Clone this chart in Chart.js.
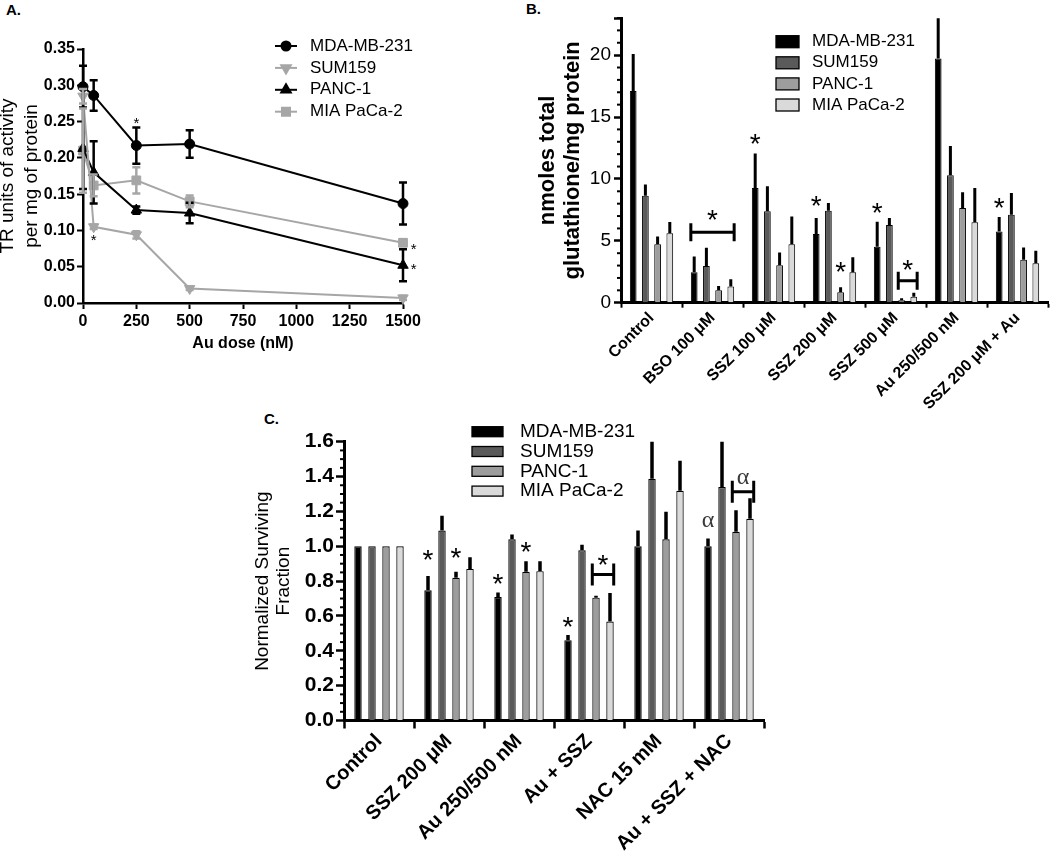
<!DOCTYPE html>
<html>
<head>
<meta charset="utf-8">
<script src="https://cdn.jsdelivr.net/npm/chart.js@4.4.0/dist/chart.umd.min.js"></script>
<style>
  body { margin: 0; background: #fff; width: 1050px; height: 861px; position: relative; overflow: hidden; }
  canvas { position: absolute; }
  .tag { position: absolute; font: bold 15px 'Liberation Sans', Arial, sans-serif; }
</style>
</head>
<body>
<div class="tag" style="left:6px;top:1px">A.</div>
<div class="tag" style="left:526px;top:0px">B.</div>
<div class="tag" style="left:264px;top:410px">C.</div>
<canvas id="chartA" width="470" height="370" style="left:0;top:0"></canvas>
<canvas id="chartB" width="570" height="410" style="left:480px;top:0"></canvas>
<canvas id="chartC" width="560" height="461" style="left:230px;top:400px"></canvas>
<script>
// ---- Panel A data: TR activity vs Au dose ----
const doseA = [0, 50, 250, 500, 1500];
const mdaA = [0.298, 0.286, 0.217, 0.219, 0.137];
const mdaErrA = [0.029, 0.021, 0.025, 0.019, 0.029];
const sumA = [0.285, 0.105, 0.094, 0.020, 0.007];
const sumErrA = [0.010, 0.003, 0.005, 0.002, 0.003];
const pancA = [0.213, 0.180, 0.128, 0.124, 0.052];
const pancErrA = [0.056, 0.043, 0.005, 0.014, 0.022];
const miaA = [0.210, 0.162, 0.169, 0.140, 0.083];
const miaErrA = [0.058, 0.015, 0.018, 0.008, 0.004];
const starsA = [[250, 0.251], [50, 0.089], [1550, 0.077], [1550, 0.050]];

// ---- Panel B data: total glutathione ----
const groupsB = ['Control', 'BSO 100 μM', 'SSZ 100 μM', 'SSZ 200 μM', 'SSZ 500 μM', 'Au 250/500 nM', 'SSZ 200 μM + Au'];
const mdaB = [17.1, 2.46, 9.27, 5.54, 4.51, 19.73, 5.76];
const mdaErrB = [3.0, 1.27, 2.78, 1.30, 2.03, 3.24, 1.16];
const sumB = [8.65, 2.97, 7.38, 7.43, 6.27, 10.3, 7.1];
const sumErrB = [0.89, 1.46, 2.02, 0.62, 0.57, 2.35, 1.76];
const pancB = [4.73, 1.0, 3.03, 0.84, 0.2, 7.65, 3.46];
const pancErrB = [0.62, 0.35, 1.02, 0.4, 0.15, 1.27, 1.0];
const miaB = [5.62, 1.3, 4.73, 2.46, 0.49, 6.49, 3.19];
const miaErrB = [0.89, 0.59, 2.24, 1.22, 0.32, 2.78, 1.0];
// [group, series, y]
const starsB = [[2, 0, 13.2], [3, 0, 8.2], [3, 2, 2.9], [4, 0, 7.65], [6, 0, 8.05]];
// [group, fromSeries, toSeries, y, starY]
const bracketsB = [[1, 0, 3, 5.7, 7.1], [4, 2, 3, 1.78, 3.05]];

// ---- Panel C data: normalized surviving fraction ----
const groupsC = ['Control', 'SSZ 200 μM', 'Au 250/500 nM', 'Au + SSZ', 'NAC 15 mM', 'Au + SSZ + NAC'];
const mdaC = [1.0, 0.747, 0.709, 0.461, 1.0, 1.0];
const mdaErrC = [0, 0.082, 0.026, 0.03, 0.09, 0.045];
const sumC = [1.0, 1.09, 1.04, 0.977, 1.387, 1.34];
const sumErrC = [0, 0.085, 0.027, 0.031, 0.3, 0.3];
const pancC = [1.0, 0.819, 0.853, 0.705, 1.04, 1.083];
const pancErrC = [0, 0.034, 0.061, 0.011, 0.158, 0.124];
const miaC = [1.0, 0.87, 0.857, 0.568, 1.318, 1.158];
const miaErrC = [0, 0.067, 0.057, 0.163, 0.172, 0.117];
const starsC = [[1, 0, 0.947], [1, 2, 0.96], [2, 0, 0.81], [2, 2, 0.994], [3, 0, 0.566]];
const bracketsC = [[3, 2, 3, 0.838, 0.922]];
const alphasC = [[5, 0, 1.14]];
const alphaBracketsC = [[5, 2, 3, 1.313, 1.39]];

const seriesNames = ['MDA-MB-231', 'SUM159', 'PANC-1', 'MIA PaCa-2'];
const barColors = ['#000000', '#5a5a5a', '#9d9d9d', '#dadada'];

const FONT = "'Liberation Sans', Arial, sans-serif";
Chart.defaults.font.family = FONT;
Chart.defaults.color = '#000';
Chart.defaults.animation = false;

function tickGrid(len, w) {
  return { display: true, drawOnChartArea: false, drawTicks: true, tickLength: len, tickWidth: w, tickColor: '#000', color: '#000' };
}

// draw text so the ink of the glyph is centred on (x, y)
function centerText(ctx, txt, x, y) {
  const m = ctx.measureText(txt);
  ctx.textAlign = 'center';
  ctx.textBaseline = 'alphabetic';
  ctx.fillText(txt, x, y + (m.actualBoundingBoxAscent - m.actualBoundingBoxDescent) / 2);
}

function minorTicks(values, len, w) {
  return {
    id: 'minorTicks',
    afterDraw(chart) {
      const s = chart.scales.y, ctx = chart.ctx;
      ctx.save();
      ctx.strokeStyle = '#000';
      ctx.lineWidth = w;
      values.forEach(v => {
        const py = s.getPixelForValue(v);
        ctx.beginPath();
        ctx.moveTo(s.right - len, py);
        ctx.lineTo(s.right, py);
        ctx.stroke();
      });
      ctx.restore();
    }
  };
}

function barErrors(errs, lw) {
  return {
    id: 'barErrors',
    afterDatasetsDraw(chart) {
      const ctx = chart.ctx, y = chart.scales.y, a = chart.chartArea;
      ctx.save();
      ctx.beginPath();
      ctx.rect(a.left, a.top, a.right - a.left, a.bottom - a.top);
      ctx.clip();
      ctx.strokeStyle = '#000';
      ctx.lineWidth = lw;
      chart.data.datasets.forEach((ds, di) => {
        chart.getDatasetMeta(di).data.forEach((bar, i) => {
          const e = errs[di][i];
          if (!e) return;
          ctx.beginPath();
          ctx.moveTo(bar.x, y.getPixelForValue(ds.data[i]));
          ctx.lineTo(bar.x, y.getPixelForValue(ds.data[i] + e));
          ctx.stroke();
        });
      });
      ctx.restore();
    }
  };
}

function barMarks(stars, brackets, alphas, alphaBrackets, o) {
  return {
    id: 'barMarks',
    afterDraw(chart) {
      const ctx = chart.ctx, y = chart.scales.y;
      const bar = (g, s) => chart.getDatasetMeta(s).data[g];
      const drawBracket = (b, sym, font, color) => {
        const b1 = bar(b[0], b[1]), b2 = bar(b[0], b[2]);
        const x1 = b1.x - b1.width / 2, x2 = b2.x + b2.width / 2;
        const py = y.getPixelForValue(b[3]);
        ctx.strokeStyle = '#000';
        ctx.lineWidth = 3;
        ctx.beginPath();
        ctx.moveTo(x1, py); ctx.lineTo(x2, py);
        ctx.moveTo(x1, py - o.bh); ctx.lineTo(x1, py + o.bh);
        ctx.moveTo(x2, py - o.bh); ctx.lineTo(x2, py + o.bh);
        ctx.stroke();
        ctx.font = font;
        ctx.fillStyle = color;
        centerText(ctx, sym, (x1 + x2) / 2, y.getPixelForValue(b[4]));
      };
      ctx.save();
      ctx.font = o.starFont;
      ctx.fillStyle = '#000';
      stars.forEach(s => centerText(ctx, '*', bar(s[0], s[1]).x, y.getPixelForValue(s[2])));
      brackets.forEach(b => drawBracket(b, '*', o.starFont, '#000'));
      (alphas || []).forEach(s => {
        ctx.font = o.alphaFont;
        ctx.fillStyle = '#3a3a3a';
        centerText(ctx, 'α', bar(s[0], s[1]).x, y.getPixelForValue(s[2]));
      });
      (alphaBrackets || []).forEach(b => drawBracket(b, 'α', o.alphaFont, '#3a3a3a'));
      ctx.restore();
    }
  };
}

function boxLegend(o) {
  return {
    id: 'boxLegend',
    afterDraw(chart) {
      const ctx = chart.ctx;
      ctx.save();
      ctx.font = o.size + 'px ' + FONT;
      ctx.textAlign = 'left';
      ctx.textBaseline = 'middle';
      chart.data.datasets.forEach((ds, i) => {
        const cy = o.y + i * o.gap;
        ctx.fillStyle = ds.backgroundColor;
        ctx.fillRect(o.x, cy - o.bh / 2, o.bw, o.bh);
        ctx.strokeStyle = '#000';
        ctx.lineWidth = 1.3;
        ctx.strokeRect(o.x, cy - o.bh / 2, o.bw, o.bh);
        ctx.fillStyle = '#000';
        ctx.fillText(ds.label, o.tx, cy);
      });
      ctx.restore();
    }
  };
}

// ---------------- Panel A ----------------
const errA = [mdaErrA, sumErrA, pancErrA, miaErrA];
const pts = arr => doseA.map((x, i) => ({ x: x, y: arr[i] }));
const lineStyles = [
  { c: '#000', ps: 'circle', rot: 0, r: 5 },
  { c: '#a6a6a6', ps: 'triangle', rot: 180, r: 6 },
  { c: '#000', ps: 'triangle', rot: 0, r: 6 },
  { c: '#a6a6a6', ps: 'rect', rot: 0, r: 6.2 }
];
const valuesA = [mdaA, sumA, pancA, miaA];

const errorBarsA = {
  id: 'errorBarsA',
  afterDatasetsDraw(chart) {
    const ctx = chart.ctx, y = chart.scales.y;
    ctx.save();
    ctx.lineWidth = 2.5;
    chart.data.datasets.forEach((ds, di) => {
      ctx.strokeStyle = ds.borderColor;
      chart.getDatasetMeta(di).data.forEach((pt, i) => {
        const e = errA[di][i];
        const top = y.getPixelForValue(valuesA[di][i] + e);
        const bot = y.getPixelForValue(valuesA[di][i] - e);
        ctx.beginPath();
        ctx.moveTo(pt.x, top); ctx.lineTo(pt.x, bot);
        ctx.moveTo(pt.x - 4, top); ctx.lineTo(pt.x + 4, top);
        ctx.moveTo(pt.x - 4, bot); ctx.lineTo(pt.x + 4, bot);
        ctx.stroke();
      });
    });
    ctx.font = '15px ' + FONT;
    ctx.fillStyle = '#000';
    const x = chart.scales.x;
    starsA.forEach(s => centerText(ctx, '*', x.getPixelForValue(s[0]), y.getPixelForValue(s[1])));
    ctx.restore();
  }
};

const lineLegendA = {
  id: 'lineLegendA',
  afterDraw(chart) {
    const ctx = chart.ctx;
    ctx.save();
    ctx.font = '17px ' + FONT;
    ctx.textAlign = 'left';
    ctx.textBaseline = 'middle';
    chart.data.datasets.forEach((ds, i) => {
      const cy = 46 + i * 21.9;
      const st = lineStyles[i];
      ctx.strokeStyle = st.c;
      ctx.fillStyle = st.c;
      ctx.lineWidth = 2;
      ctx.beginPath();
      ctx.moveTo(275, cy); ctx.lineTo(297, cy);
      ctx.stroke();
      Chart.helpers.drawPoint(ctx, { pointStyle: st.ps, rotation: st.rot, radius: st.r - 0.5, borderWidth: 1 }, 286, cy);
      ctx.fillStyle = '#000';
      ctx.fillText(ds.label, 310, cy);
    });
    ctx.restore();
  }
};

new Chart(document.getElementById('chartA'), {
  type: 'line',
  data: {
    datasets: valuesA.map((arr, i) => ({
      label: seriesNames[i],
      data: pts(arr),
      borderColor: lineStyles[i].c,
      backgroundColor: lineStyles[i].c,
      pointBackgroundColor: lineStyles[i].c,
      borderWidth: 2,
      pointStyle: lineStyles[i].ps,
      pointRotation: lineStyles[i].rot,
      pointRadius: lineStyles[i].r,
      pointBorderWidth: 1,
      tension: 0,
      clip: false
    }))
  },
  options: {
    responsive: false,
    layout: { padding: { left: 0, top: 49, right: 67, bottom: 0 } },
    plugins: { legend: { display: false }, tooltip: { enabled: false } },
    scales: {
      x: {
        type: 'linear', min: 0, max: 1500,
        ticks: { stepSize: 250, callback: v => String(v), font: { size: 16, weight: 'bold' }, padding: 3 },
        grid: tickGrid(6, 2),
        border: { color: '#000', width: 2.5 },
        title: { display: true, text: 'Au dose (nM)', font: { size: 16, weight: 'bold' }, padding: { top: 0, bottom: 17 } },
        afterFit: s => { s.height = 67; }
      },
      y: {
        min: 0, max: 0.35,
        ticks: { stepSize: 0.05, callback: v => v.toFixed(2), font: { size: 16, weight: 'bold' }, padding: 2 },
        grid: tickGrid(6, 2),
        border: { color: '#000', width: 2.5 },
        title: { display: true, text: ['TR units of activity', 'per mg of protein'], font: { size: 19, lineHeight: 1.25 }, padding: { top: -4, bottom: 0 } },
        afterFit: s => { s.width = 83; }
      }
    }
  },
  plugins: [errorBarsA, lineLegendA]
});

// ---------------- Panel B ----------------
const valuesB = [mdaB, sumB, pancB, miaB];
const minorB = [];
for (let v = 1; v <= 23; v++) if (v % 5) minorB.push(v);

new Chart(document.getElementById('chartB'), {
  type: 'bar',
  data: {
    labels: groupsB,
    datasets: valuesB.map((arr, i) => ({
      label: seriesNames[i],
      data: arr,
      backgroundColor: barColors[i],
      borderColor: '#000',
      borderWidth: 1,
      categoryPercentage: 0.8,
      barPercentage: 0.55
    }))
  },
  options: {
    responsive: false,
    layout: { padding: { left: 0, top: 18, right: 2, bottom: 0 } },
    plugins: { legend: { display: false }, tooltip: { enabled: false } },
    scales: {
      x: {
        ticks: { font: { size: 16, weight: 'bold' }, maxRotation: 45, minRotation: 45, padding: 1, autoSkip: false },
        grid: tickGrid(5, 2),
        border: { color: '#000', width: 3 },
        afterFit: s => { s.height = 107.3; }
      },
      y: {
        min: 0, max: 23,
        ticks: { stepSize: 5, callback: v => (v % 5 === 0 ? v : ''), font: { size: 19 }, padding: 3 },
        grid: tickGrid(7, 2.5),
        border: { color: '#000', width: 3 },
        title: { display: true, text: ['nmoles total', 'glutathione/mg protein'], font: { size: 22, weight: 'bold', lineHeight: 1.12 }, padding: { top: 55.6, bottom: 0 } },
        afterFit: s => { s.width = 141; }
      }
    }
  },
  plugins: [
    barErrors([mdaErrB, sumErrB, pancErrB, miaErrB], 3),
    barMarks(starsB, bracketsB, null, null, { starFont: '28px ' + FONT, bh: 9 }),
    minorTicks(minorB, 4, 2),
    boxLegend({ x: 296, y: 41.7, gap: 21.1, bw: 23, bh: 12, tx: 332, size: 17 })
  ]
});

// ---------------- Panel C ----------------
const valuesC = [mdaC, sumC, pancC, miaC];
const minorC = [];
for (let k = 1; k < 32; k++) if (k % 4) minorC.push(k * 0.05);

new Chart(document.getElementById('chartC'), {
  type: 'bar',
  data: {
    labels: groupsC,
    datasets: valuesC.map((arr, i) => ({
      label: seriesNames[i],
      data: arr,
      backgroundColor: barColors[i],
      borderColor: '#000',
      borderWidth: 1.2,
      categoryPercentage: 0.8,
      barPercentage: 0.53
    }))
  },
  options: {
    responsive: false,
    layout: { padding: { left: 0, top: 41.7, right: 26, bottom: 0 } },
    plugins: { legend: { display: false }, tooltip: { enabled: false } },
    scales: {
      x: {
        ticks: { font: { size: 20, weight: 'bold' }, maxRotation: 45, minRotation: 45, padding: 1, autoSkip: false },
        grid: tickGrid(8, 2.5),
        border: { color: '#000', width: 3 },
        afterFit: s => { s.height = 140.5; }
      },
      y: {
        min: 0, max: 1.6,
        ticks: { stepSize: 0.2, callback: v => v.toFixed(1), font: { size: 21, weight: 'bold' }, padding: 2 },
        grid: tickGrid(8, 2.5),
        border: { color: '#000', width: 3 },
        title: { display: true, text: ['Normalized Surviving', 'Fraction'], font: { size: 19, lineHeight: 1.1 }, padding: { top: 22.5, bottom: 0 } },
        afterFit: s => { s.width = 114; }
      }
    }
  },
  plugins: [
    barErrors([mdaErrC, sumErrC, pancErrC, miaErrC], 3.5),
    barMarks(starsC, bracketsC, alphasC, alphaBracketsC, { starFont: '28px ' + FONT, alphaFont: '24px "Liberation Serif", serif', bh: 11 }),
    minorTicks(minorC, 4, 2),
    boxLegend({ x: 242, y: 31.7, gap: 19.8, bw: 31, bh: 10, tx: 290, size: 19 })
  ]
});
</script>
</body>
</html>
